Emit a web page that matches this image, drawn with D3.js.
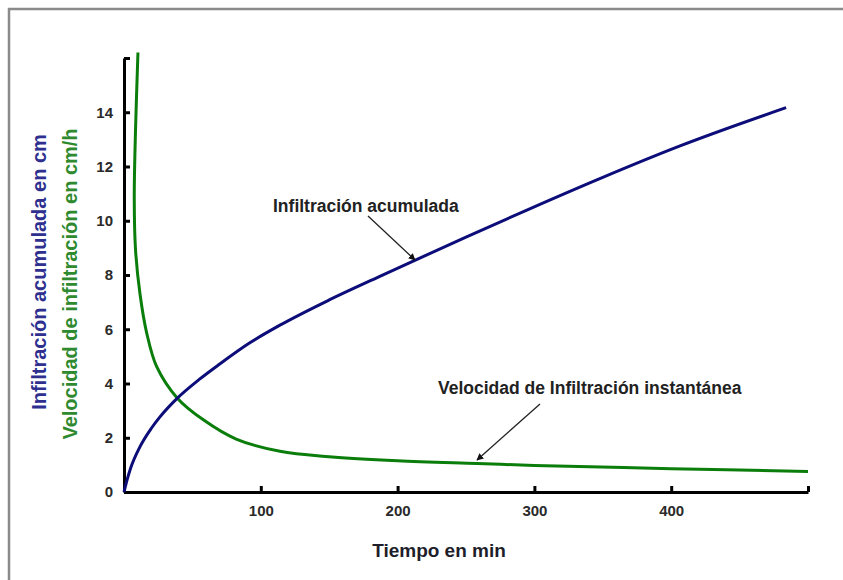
<!DOCTYPE html>
<html>
<head>
<meta charset="utf-8">
<script src="https://cdn.jsdelivr.net/npm/d3@7"></script>
<style>
  html, body { margin: 0; padding: 0; background: #fff; }
  svg { display: block; font-family: "Liberation Sans", Arial, sans-serif; }
</style>
</head>
<body>
<div id="chart"></div>
<script>
// ------------------------------------------------------
// DATA
// ------------------------------------------------------
// infiltración acumulada (cm) vs tiempo (min)
const accTime  = [0, 2, 5, 12, 20, 26, 39, 55, 70, 92, 114, 150, 187, 250, 297, 350, 406, 484];
const accValue = [0, 0.4, 0.9, 1.7, 2.35, 2.75, 3.46, 4.15, 4.72, 5.5, 6.15, 7.08, 7.95, 9.4, 10.45, 11.6, 12.75, 14.17];

// velocidad de infiltración instantánea (cm/h) vs tiempo (min)
// (the spreadsheet spline bends back near the top, so points are kept in drawing order)
const velTime  = [10.2, 8.4, 7.5, 8.4, 11.7, 16.6, 23.9, 39, 58, 82, 114, 150, 200, 258, 300, 400, 500];
const velValue = [16.2, 13.3, 10.8, 8.95, 7.3, 5.86, 4.62, 3.46, 2.66, 1.95, 1.5, 1.3, 1.15, 1.05, 0.98, 0.86, 0.76];

const yTicks = [0, 2, 4, 6, 8, 10, 12, 14, 16];
const xTicks = [100, 200, 300, 400, 500];

// ------------------------------------------------------
// SVG + FRAME
// ------------------------------------------------------
const width = 843;
const height = 580;

const svg = d3.select("#chart")
  .append("svg")
  .attr("width", width)
  .attr("height", height);

// grey page frame (runs off the right / bottom edge)
svg.append("rect")
  .attr("x", 9)
  .attr("y", 9)
  .attr("width", 900)
  .attr("height", 700)
  .attr("fill", "none")
  .attr("stroke", "#8a8a8a")
  .attr("stroke-width", 2.5);

// ------------------------------------------------------
// SCALES
// ------------------------------------------------------
const x = d3.scaleLinear().domain([0, 500]).range([124, 808]);
const y = d3.scaleLinear().domain([0, 16]).range([492, 58]);

// ------------------------------------------------------
// AXES (ticks point inwards, thick black lines)
// ------------------------------------------------------
const yAxis = svg.append("g")
  .attr("class", "y-axis")
  .attr("transform", `translate(${x(0)},0)`)
  .call(d3.axisLeft(y)
    .tickValues(yTicks)
    .tickSizeInner(-6)
    .tickSizeOuter(0)
    .tickPadding(11)
    .tickFormat(d => d === 16 ? "" : d));

const xAxis = svg.append("g")
  .attr("class", "x-axis")
  .attr("transform", `translate(0,${y(0)})`)
  .call(d3.axisBottom(x)
    .tickValues(xTicks)
    .tickSizeInner(-6)
    .tickSizeOuter(0)
    .tickPadding(13)
    .tickFormat(d => d === 500 ? "" : d));

[yAxis, xAxis].forEach(ax => {
  ax.select(".domain").attr("stroke", "#000").attr("stroke-width", 3);
  ax.selectAll(".tick line").attr("stroke", "#000").attr("stroke-width", 3);
  ax.selectAll(".tick text")
    .attr("fill", "#2a2a2a")
    .style("font-size", "15px")
    .style("font-weight", "bold");
});

// ------------------------------------------------------
// AXIS TITLES
// ------------------------------------------------------
svg.append("text")
  .attr("transform", "translate(46,272) rotate(-90)")
  .attr("text-anchor", "middle")
  .attr("fill", "#2e2f8f")
  .style("font-size", "20px")
  .style("font-weight", "bold")
  .text("Infiltración acumulada en cm");

svg.append("text")
  .attr("transform", "translate(77,284) rotate(-90)")
  .attr("text-anchor", "middle")
  .attr("fill", "#2f8a2f")
  .style("font-size", "20px")
  .style("font-weight", "bold")
  .text("Velocidad de infiltración en cm/h");

svg.append("text")
  .attr("x", 439)
  .attr("y", 557)
  .attr("text-anchor", "middle")
  .attr("fill", "#1e1e2a")
  .style("font-size", "19px")
  .style("font-weight", "bold")
  .text("Tiempo en min");

// ------------------------------------------------------
// CURVES
// ------------------------------------------------------
const accData = accTime.map((t, i) => ({ t, v: accValue[i] }));
const velData = velTime.map((t, i) => ({ t, v: velValue[i] }));

const velLine = d3.line()
  .x(d => x(d.t))
  .y(d => y(d.v))
  .curve(d3.curveCatmullRom.alpha(0.5));

const accLine = d3.line()
  .x(d => x(d.t))
  .y(d => y(d.v))
  .curve(d3.curveMonotoneX);

svg.append("path")
  .datum(velData)
  .attr("fill", "none")
  .attr("stroke", "#0b7d0b")
  .attr("stroke-width", 3)
  .attr("d", velLine);

svg.append("path")
  .datum(accData)
  .attr("fill", "none")
  .attr("stroke", "#0d0d7a")
  .attr("stroke-width", 3)
  .attr("d", accLine);

// ------------------------------------------------------
// ANNOTATIONS (label + arrow)
// ------------------------------------------------------
svg.append("defs").append("marker")
  .attr("id", "arrow")
  .attr("viewBox", "0 0 10 10")
  .attr("refX", 9)
  .attr("refY", 5)
  .attr("markerWidth", 7)
  .attr("markerHeight", 7)
  .attr("markerUnits", "userSpaceOnUse")
  .attr("orient", "auto")
  .append("path")
  .attr("d", "M0,0L10,5L0,10z")
  .attr("fill", "#111");

const notes = [
  { text: "Infiltración acumulada", tx: 273, ty: 212, from: [368, 216], to: [415, 260] },
  { text: "Velocidad de Infiltración instantánea", tx: 438, ty: 394, from: [540, 404], to: [477, 460] }
];

notes.forEach(n => {
  svg.append("text")
    .attr("x", n.tx)
    .attr("y", n.ty)
    .attr("fill", "#222")
    .style("font-size", "17.5px")
    .style("font-weight", "bold")
    .text(n.text);

  svg.append("line")
    .attr("x1", n.from[0])
    .attr("y1", n.from[1])
    .attr("x2", n.to[0])
    .attr("y2", n.to[1])
    .attr("stroke", "#222")
    .attr("stroke-width", 1.3)
    .attr("marker-end", "url(#arrow)");
});
</script>
</body>
</html>
